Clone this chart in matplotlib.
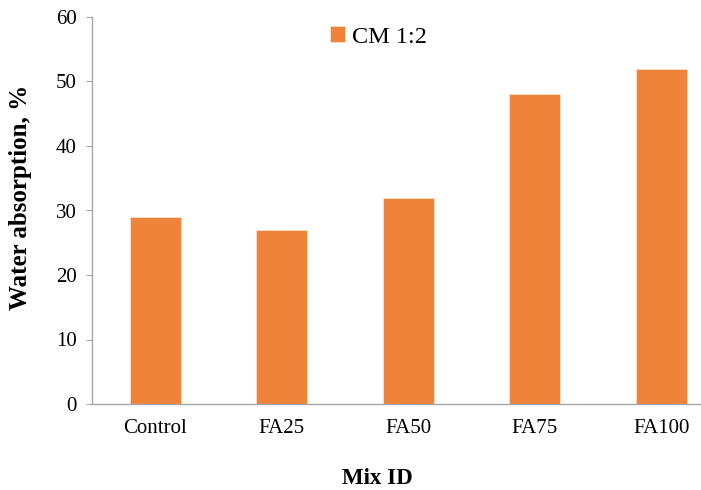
import matplotlib.pyplot as plt

categories = ["Control", "FA25", "FA50", "FA75", "FA100"]
values = [29, 27, 32, 48, 52]
series_name = "CM 1:2"

plt.rcParams["font.family"] = ["Liberation Serif", "DejaVu Serif"]

W, H = 701, 490
fig = plt.figure(figsize=(W / 100, H / 100), dpi=100)

# axes box in pixels: left spine at 92, y=0 at 404, y=60 at 17
cat_w = 126.5
left, bottom, top = 92, 404, 17
right = left + cat_w * len(categories)
ax = fig.add_axes([left / W, (H - bottom) / H, (right - left) / W, (bottom - top) / H])

bar_color = "#F0833A"
ax.bar(range(len(categories)), values, width=0.40, color=bar_color,
       edgecolor="#FBE0CC", linewidth=0.6, label=series_name)

ax.set_xlim(-0.5, len(categories) - 0.5)
ax.set_ylim(0, 60)
ax.set_yticks(range(0, 61, 10))
ax.set_xticks(range(len(categories)))
ax.set_xticklabels(categories)

for s in ["top", "right"]:
    ax.spines[s].set_visible(False)
for s in ["left", "bottom"]:
    ax.spines[s].set_color("#A6A6A6")
    ax.spines[s].set_linewidth(1.0)

ax.tick_params(axis="y", length=4, color="#A6A6A6", pad=7, labelsize=15)
ax.tick_params(axis="x", length=0, pad=11, labelsize=15)

fig.text(21 / W, 1 - 197 / H, "Water absorption, %", rotation=90, ha="center",
         va="center", fontsize=18, fontweight="bold")
fig.text(377 / W, 1 - 478 / H, "Mix ID", ha="center", va="center",
         fontsize=16.5, fontweight="bold")

fig.legend(loc="center left", bbox_to_anchor=(330 / W, 1 - 37 / H), frameon=False,
           fontsize=17.5, handlelength=0.6, handleheight=0.6, handletextpad=0.3,
           borderaxespad=0, borderpad=0)

fig.savefig("out.png", dpi=100)
